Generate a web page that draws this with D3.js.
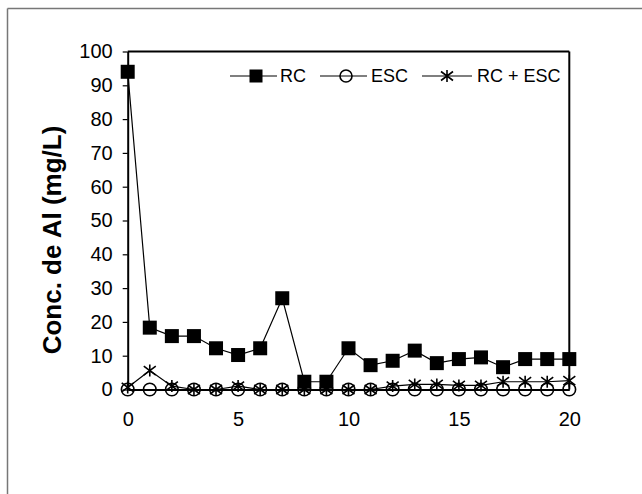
<!DOCTYPE html>
<html>
<head>
<meta charset="utf-8">
<script src="https://cdn.jsdelivr.net/npm/d3@7"></script>
<style>
  html, body { margin: 0; padding: 0; background: #fff; overflow: hidden; }
  svg { display: block; font-family: "Liberation Sans", Arial, sans-serif; }
</style>
</head>
<body>
<svg id="chart" width="642" height="494"></svg>
<script>
// ---- data ----
const days = [0,1,2,3,4,5,6,7,8,9,10,11,12,13,14,15,16,17,18,19,20];
const rcValues = [94,18.3,15.8,15.8,12.2,10.2,12.2,27,2.3,2.3,12.2,7.2,8.5,11.5,7.8,9,9.5,6.6,9,9,9];
const escValues = [0,0,0,0,0,0,0,0,0,0,0,0,0,0,0,0,0,0,0,0,0];
const rcEscValues = [0.6,5.6,1,0,0,1,0,0,0,0,0,0,1,1.5,1.5,1.2,1.2,2.3,2.3,2.3,2.6];
const seriesNames = ["RC", "ESC", "RC + ESC"];
const yTicks = [0,10,20,30,40,50,60,70,80,90,100];
const xTicks = [0,5,10,15,20];
const yTitle = "Conc. de Al (mg/L)";

const svg = d3.select("#chart");

// outer frame (top and left edges only visible)
svg.append("line").attr("x1", 7.5).attr("x2", 642).attr("y1", 8.5).attr("y2", 8.5)
  .attr("stroke", "#777").attr("stroke-width", 1.5);
svg.append("line").attr("x1", 7.5).attr("x2", 7.5).attr("y1", 8.5).attr("y2", 494)
  .attr("stroke", "#777").attr("stroke-width", 1.5);

const x = d3.scaleLinear().domain([0, 20]).range([127.7, 569.3]);
const y = d3.scaleLinear().domain([0, 100]).range([389.5, 51.5]);

// plot box top & right
svg.append("line").attr("x1", x(0)).attr("x2", x(20)).attr("y1", y(100)).attr("y2", y(100))
  .attr("stroke", "#000").attr("stroke-width", 2);
svg.append("line").attr("x1", x(20)).attr("x2", x(20)).attr("y1", y(100)).attr("y2", y(0))
  .attr("stroke", "#000").attr("stroke-width", 2);

// y axis
const yAxis = svg.append("g").attr("transform", `translate(${x(0)},0)`)
  .call(d3.axisLeft(y).tickValues(yTicks).tickSize(5).tickSizeOuter(0).tickPadding(10));
yAxis.select(".domain").attr("stroke", "#000").attr("stroke-width", 2);
yAxis.selectAll(".tick line").attr("stroke", "#000").attr("stroke-width", 1.2);
yAxis.selectAll(".tick text").attr("font-size", 20).attr("fill", "#000")
  .attr("font-family", "Liberation Sans, Arial, sans-serif");

// x axis
const xAxis = svg.append("g").attr("transform", `translate(0,${y(0)})`)
  .call(d3.axisBottom(x).tickValues(xTicks).tickSize(0).tickSizeOuter(0).tickPadding(22));
xAxis.select(".domain").attr("stroke", "#000").attr("stroke-width", 2);
xAxis.selectAll(".tick text").attr("font-size", 20).attr("fill", "#000")
  .attr("font-family", "Liberation Sans, Arial, sans-serif");

// y title
svg.append("text").attr("transform", `translate(61,240) rotate(-90)`)
  .attr("text-anchor", "middle").attr("font-size", 26).attr("font-weight", "bold")
  .text(yTitle);

// marker helpers
function square(g, cx, cy, s) {
  g.append("rect").attr("x", cx - s/2).attr("y", cy - s/2).attr("width", s).attr("height", s)
    .attr("fill", "#000");
}
function circle(g, cx, cy, r) {
  g.append("circle").attr("cx", cx).attr("cy", cy).attr("r", r)
    .attr("fill", "none").attr("stroke", "#000").attr("stroke-width", 1.6);
}
function star(g, cx, cy, s) {
  const h = s/2;
  const p = `M${cx},${cy-h}L${cx},${cy+h}M${cx-h},${cy-h*0.75}L${cx+h},${cy+h*0.75}M${cx-h},${cy+h*0.75}L${cx+h},${cy-h*0.75}`;
  g.append("path").attr("d", p).attr("stroke", "#000").attr("stroke-width", 1.6).attr("fill", "none");
}

const line = d3.line().x((d, i) => x(days[i])).y(d => y(d));
const series = [
  { name: seriesNames[0], vals: rcValues, mk: (g, cx, cy) => square(g, cx, cy, 14) },
  { name: seriesNames[1], vals: escValues, mk: (g, cx, cy) => circle(g, cx, cy, 6.3) },
  { name: seriesNames[2], vals: rcEscValues, mk: (g, cx, cy) => star(g, cx, cy, 12) }
];

series.forEach(s => {
  const g = svg.append("g");
  g.append("path").datum(s.vals).attr("d", line).attr("fill", "none")
    .attr("stroke", "#000").attr("stroke-width", 1.2);
  s.vals.forEach((v, i) => s.mk(g, x(days[i]), y(v)));
});

// legend
const legendY = 76;
const legendItems = [
  { x1: 230, x2: 277, mx: 256, tx: 280, mk: (g, cx, cy) => square(g, cx, cy, 13) },
  { x1: 320, x2: 367, mx: 346, tx: 371, mk: (g, cx, cy) => circle(g, cx, cy, 6) },
  { x1: 422, x2: 472, mx: 447, tx: 477, mk: (g, cx, cy) => star(g, cx, cy, 12) }
];
const lg = svg.append("g");
legendItems.forEach((it, i) => {
  lg.append("line").attr("x1", it.x1).attr("x2", it.x2).attr("y1", legendY).attr("y2", legendY)
    .attr("stroke", "#000").attr("stroke-width", 1.2);
  it.mk(lg, it.mx, legendY);
  lg.append("text").attr("x", it.tx).attr("y", legendY).attr("dy", "0.35em")
    .attr("font-size", 18).text(seriesNames[i]);
});
</script>
</body>
</html>
